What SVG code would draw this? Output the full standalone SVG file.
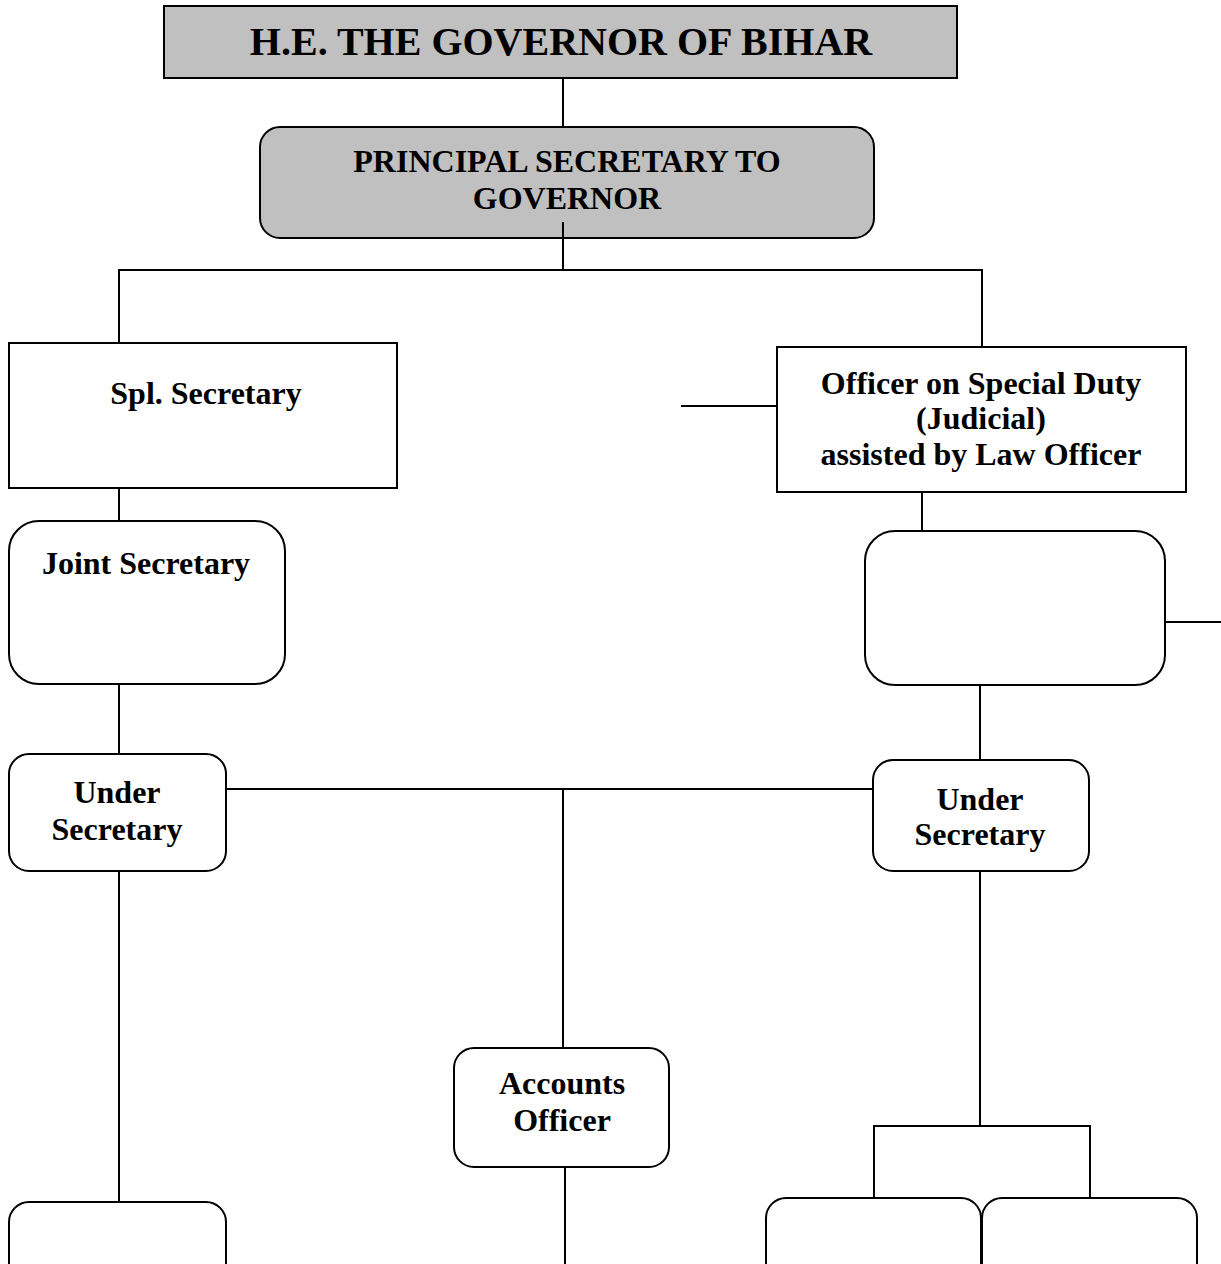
<svg xmlns="http://www.w3.org/2000/svg" width="1221" height="1264" viewBox="0 0 1221 1264">
<style>
.box{fill:#fff;stroke:#000;stroke-width:2}
.grey{fill:#c0c0c0;stroke:#000;stroke-width:2}
.ln{stroke:#000;stroke-width:2;fill:none}
text{font-family:"Liberation Serif","Times New Roman",serif;font-weight:bold;font-size:32px;text-anchor:middle;fill:#000}
.big{font-size:40px}
</style>
<rect width="1221" height="1264" fill="#fff"/>
<g id="connectors">
<line class="ln" x1="563" y1="78" x2="563" y2="127"/>
<polyline class="ln" points="119,343 119,270 982,270 982,347"/>
<line class="ln" x1="563" y1="222" x2="563" y2="270"/>
<line class="ln" x1="119" y1="488" x2="119" y2="521"/>
<line class="ln" x1="119" y1="684" x2="119" y2="754"/>
<line class="ln" x1="226" y1="789" x2="873" y2="789"/>
<line class="ln" x1="563" y1="789" x2="563" y2="1048"/>
<line class="ln" x1="119" y1="871" x2="119" y2="1202"/>
<line class="ln" x1="565" y1="1167" x2="565" y2="1264"/>
<line class="ln" x1="681" y1="406" x2="777" y2="406"/>
<line class="ln" x1="922" y1="492" x2="922" y2="531"/>
<line class="ln" x1="1165" y1="622" x2="1221" y2="622"/>
<line class="ln" x1="980" y1="685" x2="980" y2="760"/>
<line class="ln" x1="980" y1="871" x2="980" y2="1126"/>
<polyline class="ln" points="874,1198 874,1126 1090,1126 1090,1198"/>
</g>
<g id="governor">
<rect class="grey" x="164" y="6" width="793" height="72"/>
<text class="big" x="561" y="55">H.E. THE GOVERNOR OF BIHAR</text>
</g>
<g id="principal-secretary">
<rect class="grey" x="260" y="127" width="614" height="111" rx="20"/>
<text x="567" y="172">PRINCIPAL SECRETARY TO</text>
<text x="567" y="209">GOVERNOR</text>
<line class="ln" x1="563" y1="222" x2="563" y2="238"/>
</g>
<g id="spl-secretary">
<rect class="box" x="9" y="343" width="388" height="145"/>
<text x="206" y="404">Spl. Secretary</text>
</g>
<g id="joint-secretary">
<rect class="box" x="9" y="521" width="276" height="163" rx="30"/>
<text x="146" y="574">Joint Secretary</text>
</g>
<g id="under-secretary-left">
<rect class="box" x="9" y="754" width="217" height="117" rx="20"/>
<text x="117" y="803">Under</text>
<text x="117" y="840">Secretary</text>
</g>
<g id="osd">
<rect class="box" x="777" y="347" width="409" height="145"/>
<text x="981" y="394">Officer on Special Duty</text>
<text x="981" y="429">(Judicial)</text>
<text x="981" y="465">assisted by Law Officer</text>
</g>
<g id="empty-box-right">
<rect class="box" x="865" y="531" width="300" height="154" rx="30"/>
</g>
<g id="under-secretary-right">
<rect class="box" x="873" y="760" width="216" height="111" rx="20"/>
<text x="980" y="810">Under</text>
<text x="980" y="845">Secretary</text>
</g>
<g id="accounts-officer">
<rect class="box" x="454" y="1048" width="215" height="119" rx="20"/>
<text x="562" y="1094">Accounts</text>
<text x="562" y="1131">Officer</text>
</g>
<g id="bottom-left">
<rect class="box" x="9" y="1202" width="217" height="100" rx="20"/>
</g>
<g id="bottom-mid-right">
<rect class="box" x="766" y="1198" width="215" height="100" rx="20"/>
</g>
<g id="bottom-far-right">
<rect class="box" x="982" y="1198" width="215" height="100" rx="20"/>
</g>
</svg>
